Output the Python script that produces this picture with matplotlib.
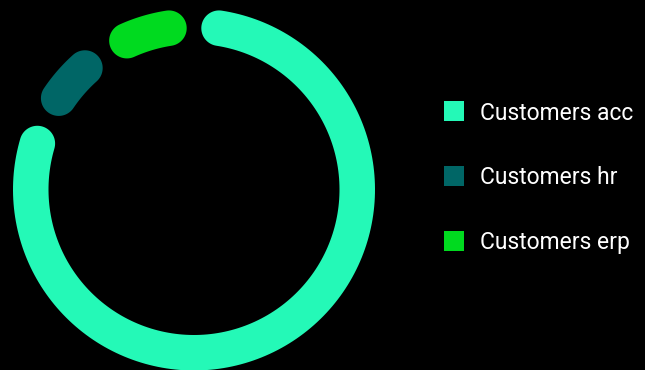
import numpy as np
import matplotlib
matplotlib.use("Agg")
import matplotlib.pyplot as plt
from matplotlib.patches import Polygon, Rectangle

categories = ["Customers acc", "Customers hr", "Customers erp"]
values = [84.2, 7.7, 8.1]
colors = ["#24f9b7", "#006666", "#00da1f"]

W, H = 645, 370
fig = plt.figure(figsize=(W / 100, H / 100), dpi=100, facecolor="black")
ax = fig.add_axes([0, 0, 1, 1])
ax.set_facecolor("black")
ax.set_xlim(0, W)
ax.set_ylim(H, 0)
ax.set_aspect("equal")
ax.axis("off")

cx, cy = 194.0, 189.5
r_out, r_in = 181.0, 145.5
r_mid = (r_out + r_in) / 2
hw = (r_out - r_in) / 2
pad = 5.2  # degrees between sectors

def pt(r, ang_deg):
    a = np.radians(ang_deg)
    return cx + r * np.sin(a), cy - r * np.cos(a)

usable = 360 - pad * len(values)
total = sum(values)
start = pad / 2
cap = np.degrees(hw / r_mid)
for v, c in zip(values, colors):
    span = v / total * usable
    a1, a2 = start + cap, start + span - cap
    pts = []
    for a in np.linspace(a1, a2, 200):
        pts.append(pt(r_out, a))
    ex, ey = pt(r_mid, a2)
    ar = np.radians(a2)
    radial = np.array([np.sin(ar), -np.cos(ar)])
    tang = np.array([np.cos(ar), np.sin(ar)])
    for t in np.linspace(0, np.pi, 40):
        p = np.array([ex, ey]) + hw * (np.cos(t) * radial + np.sin(t) * tang)
        pts.append(tuple(p))
    for a in np.linspace(a2, a1, 200):
        pts.append(pt(r_in, a))
    sx, sy = pt(r_mid, a1)
    ar = np.radians(a1)
    radial = np.array([np.sin(ar), -np.cos(ar)])
    tang = np.array([np.cos(ar), np.sin(ar)])
    for t in np.linspace(0, np.pi, 40):
        p = np.array([sx, sy]) + hw * (-np.cos(t) * radial - np.sin(t) * tang)
        pts.append(tuple(p))
    ax.add_patch(Polygon(pts, closed=True, facecolor=c, edgecolor="none"))
    start += span + pad

# legend
for i, (name, c) in enumerate(zip(categories, colors)):
    yc = 111 + i * 65
    ax.add_patch(Rectangle((444, yc - 10), 20, 20, facecolor=c, edgecolor="none"))
    ax.text(480, yc + 2, name, color="white", fontsize=16.5, family="Roboto",
            va="center", ha="left")

fig.savefig("out.png", dpi=100, facecolor="black")
